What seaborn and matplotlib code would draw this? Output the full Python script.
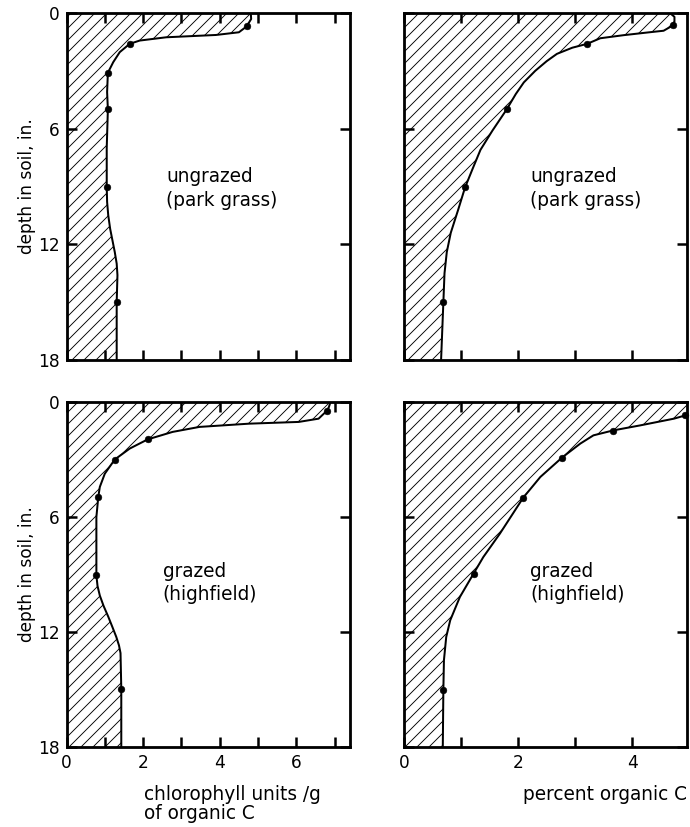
import numpy as np
import pandas as pd
import matplotlib
matplotlib.use("Agg")
import matplotlib.pyplot as plt
import seaborn as sns

# Depth profiles (depth in inches, value on x axis)
# ungrazed (park grass) - chlorophyll units / g organic C
tl_pts_val = [4.7, 1.65, 1.08, 1.08, 1.05, 1.31]
tl_pts_depth = [0.7, 1.6, 3.1, 5.0, 9.0, 15.0]
tl_curve_val = [4.81, 4.82, 4.7, 4.5, 3.9, 2.6, 1.91, 1.65, 1.39, 1.22, 1.08,
                1.06, 1.08, 1.05, 1.05, 1.06, 1.09, 1.14, 1.2, 1.26, 1.31,
                1.33, 1.31, 1.31]
tl_curve_depth = [0.0, 0.31, 0.7, 1.0, 1.14, 1.26, 1.43, 1.6, 2.03, 2.55, 3.1,
                  4.1, 5.0, 7.0, 9.0, 9.8, 10.5, 11.2, 11.8, 12.4, 13.0,
                  13.6, 15.0, 18.0]

# ungrazed (park grass) - percent organic C
tr_pts_val = [4.72, 3.21, 1.8, 1.07, 0.69]
tr_pts_depth = [0.6, 1.6, 5.0, 9.0, 15.0]
tr_curve_val = [4.66, 4.74, 4.74, 4.68, 4.55, 4.3, 3.85, 3.44, 3.21, 2.95, 2.68,
                2.5, 2.3, 2.1, 1.96, 1.8, 1.55, 1.34, 1.2, 1.07, 0.95, 0.82,
                0.75, 0.71, 0.69, 0.65]
tr_curve_depth = [0.0, 0.2, 0.45, 0.7, 0.92, 1.0, 1.15, 1.31, 1.6, 1.8, 2.12,
                  2.5, 3.0, 3.6, 4.2, 5.0, 6.1, 7.1, 8.1, 9.05, 10.2, 11.4,
                  12.4, 13.5, 15.0, 18.0]

# grazed (highfield) - chlorophyll units / g organic C
bl_pts_val = [6.8, 2.12, 1.26, 0.83, 0.78, 1.43]
bl_pts_depth = [0.45, 1.95, 3.0, 4.95, 9.05, 14.95]
bl_curve_val = [6.89, 6.85, 6.8, 6.58, 6.06, 4.77, 3.47, 2.77, 2.12, 1.65, 1.26,
                1.0, 0.87, 0.83, 0.78, 0.78, 0.81, 0.87, 0.97, 1.09, 1.2, 1.3,
                1.37, 1.41, 1.43, 1.43]
bl_curve_depth = [0.0, 0.26, 0.45, 0.87, 1.04, 1.13, 1.3, 1.56, 1.95, 2.43, 3.0,
                  3.74, 4.43, 4.95, 6.0, 9.05, 9.6, 10.1, 10.65, 11.2, 11.75,
                  12.26, 12.7, 13.1, 14.95, 18.0]

# grazed (highfield) - percent organic C
br_pts_val = [4.93, 3.67, 2.77, 2.09, 1.22, 0.69]
br_pts_depth = [0.7, 1.5, 2.9, 5.0, 8.95, 15.0]
br_curve_val = [5.0, 5.0, 4.93, 4.73, 4.14, 3.67, 3.32, 3.09, 2.77, 2.39, 2.09,
                1.68, 1.39, 1.22, 0.98, 0.81, 0.74, 0.7, 0.69, 0.68]
br_curve_depth = [0.0, 0.6, 0.7, 0.87, 1.22, 1.48, 1.74, 2.17, 2.9, 3.91, 4.99,
                  6.87, 8.09, 8.95, 10.17, 11.39, 12.26, 13.47, 15.0, 18.0]

panel_labels = ["ungrazed\n(park grass)", "ungrazed\n(park grass)",
                "grazed\n(highfield)", "grazed\n(highfield)"]
y_ticks = [0, 6, 12, 18]

sns.set_style("ticks")
plt.rcParams["font.family"] = ["DejaVu Sans"]
plt.rcParams["hatch.linewidth"] = 0.9
plt.rcParams["text.color"] = "black"
plt.rcParams["axes.labelcolor"] = "black"
plt.rcParams["xtick.color"] = "black"
plt.rcParams["ytick.color"] = "black"
plt.rcParams["axes.edgecolor"] = "black"

W, H = 690, 827
fig = plt.figure(figsize=(W / 72, H / 72), dpi=72)

def frac(x0, y0, x1, y1):
    return [x0 / W, 1 - y1 / H, (x1 - x0) / W, (y1 - y0) / H]

panels = [
    (frac(66.5, 13, 350, 360), tl_curve_val, tl_curve_depth, tl_pts_val, tl_pts_depth, 7.4, (2.6, 9.1)),
    (frac(404, 13, 687, 360), tr_curve_val, tr_curve_depth, tr_pts_val, tr_pts_depth, 4.96, (2.21, 9.1)),
    (frac(66.5, 402, 350, 747), bl_curve_val, bl_curve_depth, bl_pts_val, bl_pts_depth, 7.4, (2.51, 9.45)),
    (frac(404, 402, 687, 747), br_curve_val, br_curve_depth, br_pts_val, br_pts_depth, 4.96, (2.21, 9.45)),
]

fs = 17
for i, (pos, cv, cd, pv, pd_, xmax, tpos) in enumerate(panels):
    ax = fig.add_axes(pos)
    ax.fill_betweenx(cd, 0, cv, facecolor="none", edgecolor="black",
                     hatch="//", linewidth=0)
    curve = pd.DataFrame({"val": cv, "depth": cd})
    sns.lineplot(data=curve, x="val", y="depth", sort=False, estimator=None,
                 color="black", lw=2, ax=ax)
    sns.scatterplot(x=pv, y=pd_, color="black", s=45, edgecolor="black",
                    ax=ax, zorder=5, clip_on=False)
    ax.set_xlim(0, xmax)
    ax.set_ylim(18, 0)
    ax.text(tpos[0], tpos[1], panel_labels[i], fontsize=18.5, va="center",
            ha="left", linespacing=1.3)

    left_col = i % 2 == 0
    bottom_row = i >= 2
    nx = 8 if left_col else 5
    ax.set_xticks(range(nx))
    if bottom_row:
        ax.set_xticklabels([str(k) if k % 2 == 0 else "" for k in range(nx)])
    else:
        ax.set_xticklabels([])
    ax.set_yticks(y_ticks)
    if left_col:
        ax.set_yticklabels([str(v) for v in y_ticks])
        ax.set_ylabel("depth in soil, in.", fontsize=fs, labelpad=2)
    else:
        ax.set_yticklabels([])
        ax.set_ylabel("")
    ax.set_xlabel("")
    ax.tick_params(direction="in", length=10, width=2.5, top=True, right=True,
                   labelsize=fs, pad=7)
    for s in ax.spines.values():
        s.set_linewidth(2.8)
        s.set_visible(True)

    if bottom_row and left_col:
        ax.set_xlabel("chlorophyll units /g\nof organic C", fontsize=18.5,
                      x=0.273, ha="left", multialignment="left",
                      linespacing=1.0, labelpad=13)
    if bottom_row and not left_col:
        ax.set_xlabel("percent organic C", fontsize=18.5, x=1.0, ha="right",
                      labelpad=13)

fig.savefig("out.png", dpi=72)
